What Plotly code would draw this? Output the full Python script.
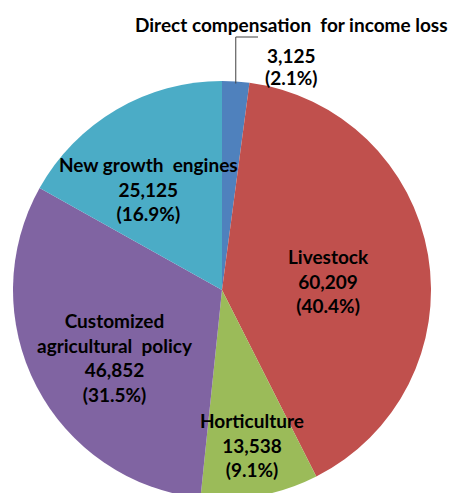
import math
import plotly.graph_objects as go

W, H = 458, 493
OFF = 8  # default body margin of the html page

labels = ["Direct compensation for income loss", "Livestock", "Horticulture",
          "Customized<br>agricultural  policy", "New growth  engines"]
values = [3125, 60209, 13538, 46852, 25125]
colors = ["#4F81BD", "#C0504D", "#9BBB59", "#8064A2", "#4BACC6"]

FONT = dict(family="Lato, Calibri, Arial", size=19, color="#000000", weight="bold")

# label placement inside slices: fraction of radius, angle nudge (deg)
label_r = [None, 0.51, 0.755, 0.605, 0.60]
label_nudge = [0, 5, -0.5, -4.7, -5.6]

# pie geometry in pixels (margins are zero, so paper == pixels)
top_px, left_px, diam = 81 - OFF, 13 - OFF, 418
dom_x = [left_px / W, (left_px + diam) / W]
dom_y = [1 - (top_px + diam) / H, 1 - top_px / H]
cx, cy, R = left_px + diam / 2, top_px + diam / 2, diam / 2

px = lambda x: x / W
py = lambda y: 1 - y / H

fig = go.Figure(go.Pie(
    labels=labels, values=values, sort=False, direction="clockwise", rotation=0,
    marker=dict(colors=colors, line=dict(width=0)),
    textinfo="none", hoverinfo="label+value+percent",
    domain=dict(x=dom_x, y=dom_y),
))

total = sum(values)
cum = 0
mids = []
for v in values:
    mids.append((cum + v / 2) / total * 360)
    cum += v

for i in range(1, len(values)):
    a = math.radians(mids[i] + label_nudge[i])
    r = label_r[i] * R
    fig.add_annotation(
        x=px(cx + r * math.sin(a)), y=py(cy - r * math.cos(a)),
        xref="paper", yref="paper", showarrow=False, xanchor="center", yanchor="middle",
        text=f"{labels[i]}<br>{values[i]:,}<br>({values[i] / total:.1%})", font=FONT,
    )

# outside label for the small slice, with an elbow leader
a0 = math.radians(mids[0])
ex, ey = cx + R * math.sin(a0), cy - R * math.cos(a0)
elbow_y, end_x = 37 - OFF, 258 - OFF
fig.add_shape(type="path", xref="paper", yref="paper",
              path=f"M {px(ex)} {py(ey + 2)} L {px(ex)} {py(elbow_y)} L {px(end_x)} {py(elbow_y)}",
              line=dict(color="#404040", width=1))
for txt, yy in [("Direct compensation  for income loss", 25),
                (f"{values[0]:,}", 55),
                (f"({values[0] / total:.1%})", 77)]:
    fig.add_annotation(x=px(291 - OFF), y=py(yy - OFF), xref="paper", yref="paper",
                       showarrow=False, xanchor="center", yanchor="middle", text=txt, font=FONT)

fig.update_layout(
    width=W, height=H, margin=dict(l=0, r=0, t=0, b=0),
    showlegend=False, paper_bgcolor="white", plot_bgcolor="white",
)
fig.write_html("out.html")
